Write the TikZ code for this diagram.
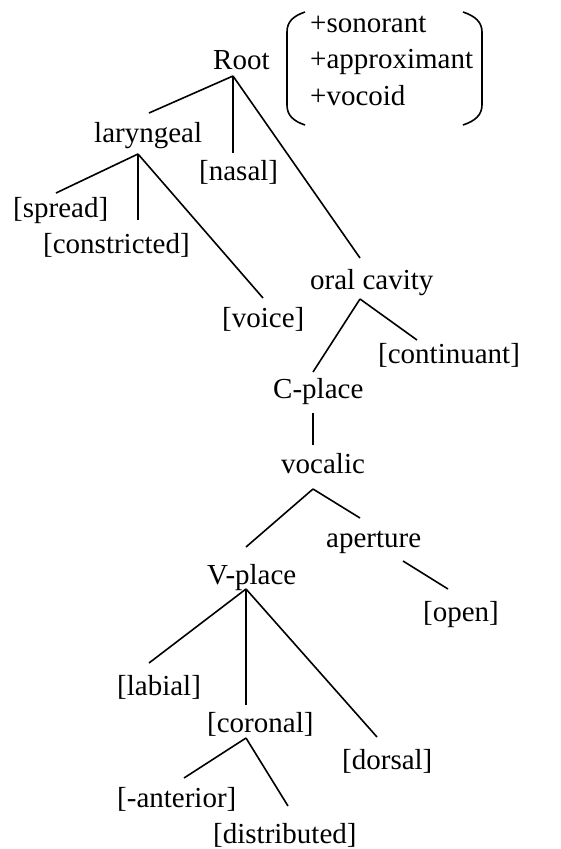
\documentclass[tikz,border=0pt]{standalone}
\usepackage{fontspec}
\setmainfont{Liberation Serif}
\begin{document}
\begin{tikzpicture}[x=1pt,y=-1pt,
  lbl/.style={anchor=base west,inner sep=0pt,font=\fontsize{29}{34}\selectfont},
  edge/.style={line width=1.6pt}]
\useasboundingbox (0,0) rectangle (560,849);
% labels
\node[lbl] (root) at (213,69) {Root};
\node[lbl] (f1) at (310,32) {+sonorant};
\node[lbl] (f2) at (310,68) {+approximant};
\node[lbl] (f3) at (310,105) {+vocoid};
\node[lbl] (lar) at (94,142) {laryngeal};
\node[lbl] (nas) at (199,180) {[nasal]};
\node[lbl] (spr) at (13,217) {[spread]};
\node[lbl] (con) at (43,253) {[constricted]};
\node[lbl] (oral) at (310,289) {oral cavity};
\node[lbl] (voi) at (222,327) {[voice]};
\node[lbl] (cont) at (378,363) {[continuant]};
\node[lbl] (cpl) at (273,398) {C-place};
\node[lbl] (voc) at (281,473) {vocalic};
\node[lbl] (ape) at (326,547) {aperture};
\node[lbl] (vpl) at (207,584) {V-place};
\node[lbl] (ope) at (423,621) {[open]};
\node[lbl] (lab) at (117,695) {[labial]};
\node[lbl] (cor) at (207,732) {[coronal]};
\node[lbl] (dor) at (342,769) {[dorsal]};
\node[lbl] (ant) at (117,807) {[-anterior]};
\node[lbl] (dis) at (213,843) {[distributed]};
% connector end points
\coordinate (root-b) at (233,76);
\coordinate (lar-t) at (149,113);
\coordinate (nas-t) at (233,153);
\coordinate (oral-t) at (360,258);
\coordinate (lar-b) at (138,154);
\coordinate (spr-t) at (56,193);
\coordinate (con-t) at (138,220);
\coordinate (voi-t) at (263,298);
\coordinate (oral-b) at (360,299);
\coordinate (cpl-t) at (313,372);
\coordinate (cont-t) at (417,340);
\coordinate (cpl-b) at (313,413);
\coordinate (voc-t) at (313,445);
\coordinate (voc-b) at (313,489);
\coordinate (vpl-t) at (246,547);
\coordinate (ape-t) at (360,518);
\coordinate (ape-b) at (403,561);
\coordinate (ope-t) at (448,589);
\coordinate (vpl-b) at (246,589);
\coordinate (lab-t) at (149,663);
\coordinate (cor-t) at (246,705);
\coordinate (dor-t) at (377,737);
\coordinate (cor-b) at (246,738);
\coordinate (ant-t) at (184,778);
\coordinate (dis-t) at (288,806);
% connectors
\draw[edge] (root-b) -- (lar-t);
\draw[edge] (root-b) -- (nas-t);
\draw[edge] (root-b) -- (oral-t);
\draw[edge] (lar-b) -- (spr-t);
\draw[edge] (lar-b) -- (con-t);
\draw[edge] (lar-b) -- (voi-t);
\draw[edge] (oral-b) -- (cpl-t);
\draw[edge] (oral-b) -- (cont-t);
\draw[edge] (cpl-b) -- (voc-t);
\draw[edge] (voc-b) -- (vpl-t);
\draw[edge] (voc-b) -- (ape-t);
\draw[edge] (ape-b) -- (ope-t);
\draw[edge] (vpl-b) -- (lab-t);
\draw[edge] (vpl-b) -- (cor-t);
\draw[edge] (vpl-b) -- (dor-t);
\draw[edge] (cor-b) -- (ant-t);
\draw[edge] (cor-b) -- (dis-t);
% feature matrix brackets
\draw[edge] (305,12) .. controls (293,16) and (287,22) .. (287,32) -- (287,105) .. controls (287,115) and (293,121) .. (305,125);
\draw[edge] (463,12) .. controls (475,16) and (482,22) .. (482,32) -- (482,105) .. controls (482,115) and (475,121) .. (463,125);
\end{tikzpicture}
\end{document}
